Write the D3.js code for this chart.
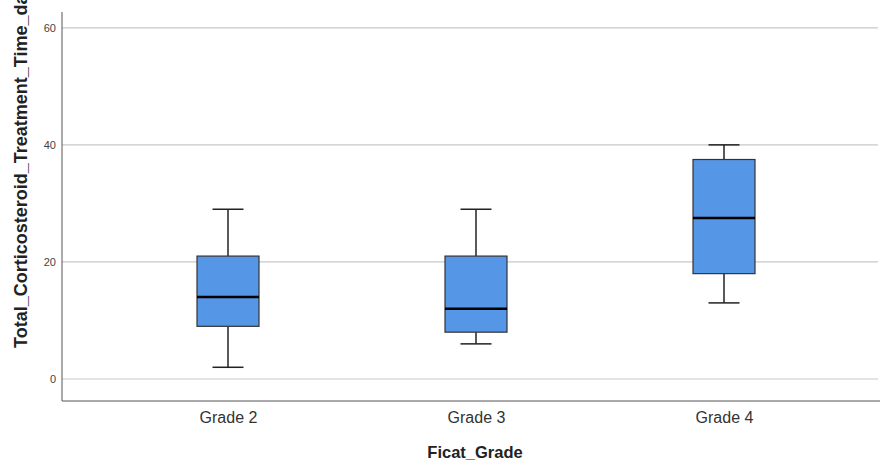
<!DOCTYPE html>
<html><head><meta charset="utf-8">
<script src="https://cdn.jsdelivr.net/npm/d3@7/dist/d3.min.js"></script>
<style>body{margin:0;background:#fff}svg{display:block}</style>
</head><body>
<script>
const categories = ["Grade 2", "Grade 3", "Grade 4"];
const whiskerLow = [2, 6, 13];
const q1 = [9, 8, 18];
const median = [14, 12, 27.5];
const q3 = [21, 21, 37.5];
const whiskerHigh = [29, 29, 40];
const yTicks = [0, 20, 40, 60];
const xTitle = "Ficat_Grade";
const yTitle = "Total_Corticosteroid_Treatment_Time_days";

const W = 880, H = 463;
const mLeft = 62, mRight = 878, mTop = 12, mBottom = 401;
const svg = d3.select("body").append("svg").attr("width", W).attr("height", H);

const x = d3.scalePoint().domain(categories).range([228, 724]);
const y = d3.scaleLinear().domain([-3.76, 62.7]).range([mBottom, mTop]);
const FONT = "Liberation Sans, Arial, sans-serif";

// gridlines
svg.append("g").selectAll("line").data(yTicks).join("line")
  .attr("x1", mLeft).attr("x2", mRight)
  .attr("y1", d => y(d)).attr("y2", d => y(d))
  .attr("stroke", "#c8c8c8").attr("stroke-width", 1.2);

// y tick labels
const yAxis = d3.axisLeft(y).tickValues(yTicks).tickSize(0).tickPadding(6);
const ga = svg.append("g").attr("transform", `translate(${mLeft},0)`).call(yAxis);
ga.select(".domain").remove();
ga.selectAll("text").attr("font-family", FONT)
  .attr("font-size", 11).attr("fill", "#444");

// x axis labels
const xAxis = d3.axisBottom(x).tickSize(0).tickPadding(11);
const gx = svg.append("g").attr("transform", `translate(0,${mBottom})`).call(xAxis);
gx.select(".domain").remove();
gx.selectAll("text").attr("font-family", FONT)
  .attr("font-size", 16).attr("fill", "#333");

// axis lines
svg.append("line").attr("x1", mLeft).attr("x2", mLeft).attr("y1", mTop).attr("y2", mBottom)
  .attr("stroke", "#555").attr("stroke-width", 1);
svg.append("line").attr("x1", mLeft).attr("x2", W).attr("y1", mBottom).attr("y2", mBottom)
  .attr("stroke", "#555").attr("stroke-width", 1);

// boxes
const boxW = 62, capW = 31;
const data = categories.map((c, i) => ({c, lo: whiskerLow[i], q1: q1[i], med: median[i], q3: q3[i], hi: whiskerHigh[i]}));
const g = svg.append("g").selectAll("g").data(data).join("g");
g.append("line").attr("x1", d => x(d.c)).attr("x2", d => x(d.c))
  .attr("y1", d => y(d.hi)).attr("y2", d => y(d.q3)).attr("stroke", "#222").attr("stroke-width", 1.5);
g.append("line").attr("x1", d => x(d.c)).attr("x2", d => x(d.c))
  .attr("y1", d => y(d.q1)).attr("y2", d => y(d.lo)).attr("stroke", "#222").attr("stroke-width", 1.5);
g.append("line").attr("x1", d => x(d.c) - capW/2).attr("x2", d => x(d.c) + capW/2)
  .attr("y1", d => y(d.hi)).attr("y2", d => y(d.hi)).attr("stroke", "#222").attr("stroke-width", 1.5);
g.append("line").attr("x1", d => x(d.c) - capW/2).attr("x2", d => x(d.c) + capW/2)
  .attr("y1", d => y(d.lo)).attr("y2", d => y(d.lo)).attr("stroke", "#222").attr("stroke-width", 1.5);
g.append("rect").attr("x", d => x(d.c) - boxW/2).attr("width", boxW)
  .attr("y", d => y(d.q3)).attr("height", d => y(d.q1) - y(d.q3))
  .attr("fill", "#5596e6").attr("stroke", "#333").attr("stroke-width", 1.2);
g.append("line").attr("x1", d => x(d.c) - boxW/2).attr("x2", d => x(d.c) + boxW/2)
  .attr("y1", d => y(d.med)).attr("y2", d => y(d.med)).attr("stroke", "#000").attr("stroke-width", 2.6);

// titles
svg.append("text").attr("x", 475).attr("y", 458).attr("text-anchor", "middle")
  .attr("font-family", FONT).attr("font-weight", "bold")
  .attr("font-size", 16.5).attr("fill", "#222").text(xTitle);
svg.append("text").attr("transform", "translate(27,348) rotate(-90)").attr("text-anchor", "start")
  .attr("font-family", FONT).attr("font-weight", "bold")
  .attr("font-size", 18).attr("fill", "#222").text(yTitle);
</script>
</body></html>
